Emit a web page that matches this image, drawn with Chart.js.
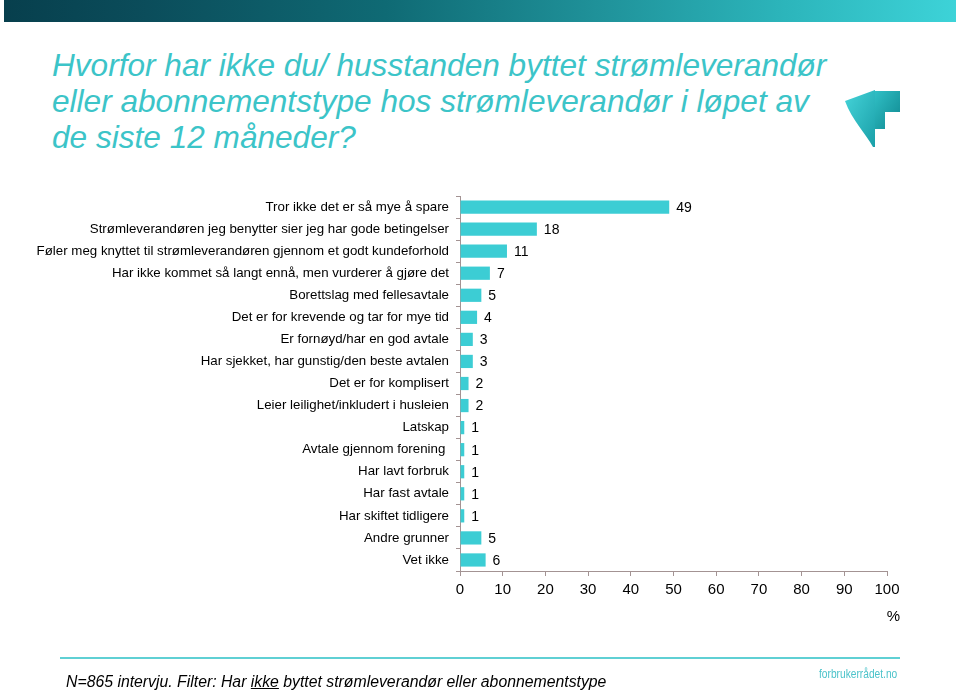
<!DOCTYPE html>
<html>
<head>
<meta charset="utf-8">
<script src="https://cdn.jsdelivr.net/npm/chart.js@4/dist/chart.umd.min.js"></script>
<style>
  html, body { margin: 0; padding: 0; background: #ffffff; }
  body { width: 960px; height: 693px; position: relative; overflow: hidden; font-family: "Liberation Sans", Arial, sans-serif; }
  #topbar { position: absolute; left: 4px; top: 0; width: 952px; height: 22px;
    background: linear-gradient(to right, #073f4d 0%, #0b4d5b 15%, #0f6a74 40%, #1f9199 62%, #2cb5bb 82%, #3dd3d8 100%); }
  #title { position: absolute; left: 52px; top: 47px; font-size: 31.6px; line-height: 36px; font-style: italic; color: #3cc4c8; white-space: nowrap; }
  #logo { position: absolute; left: 840px; top: 84px; }
  #chartwrap { position: absolute; left: 0; top: 0; width: 960px; height: 693px; }
  #pct { position: absolute; right: 60px; top: 607px; font-size: 15px; color: #000; }
  #footline { position: absolute; left: 60px; top: 657px; width: 840px; height: 2px; background: #5fd0d4; }
  #foot { position: absolute; left: 66px; top: 673px; font-size: 15.8px; font-style: italic; color: #000; white-space: nowrap; }
  #site { position: absolute; left: 819px; top: 667px; font-size: 12px; color: #4cc3ca; transform: scaleX(0.85); transform-origin: left top; white-space: nowrap; }
</style>
</head>
<body>
<div id="topbar"></div>
<div id="title">Hvorfor har ikke du/ husstanden byttet strømleverandør<br>eller abonnementstype hos strømleverandør i løpet av<br>de siste 12 måneder?</div>
<svg id="logo" width="66" height="68" viewBox="0 0 66 68">
  <defs>
    <linearGradient id="g1" x1="0" y1="0" x2="1" y2="1">
      <stop offset="0" stop-color="#45d4d9"/>
      <stop offset="1" stop-color="#1a9fa8"/>
    </linearGradient>
    <linearGradient id="g2" x1="0" y1="0" x2="1" y2="1">
      <stop offset="0" stop-color="#30bfc5"/>
      <stop offset="1" stop-color="#0f8890"/>
    </linearGradient>
  </defs>
  <path d="M5 17 L35 6 L35 63 L33 63 C 26 50, 12 36, 5 17 Z" fill="url(#g1)"/>
  <path d="M35 7 L60 7 L60 28 L45 28 L45 45 L35 45 Z" fill="url(#g2)"/>
</svg>
<div id="chartwrap"><canvas id="c" width="960" height="693"></canvas></div>
<div id="pct">%</div>
<div id="footline"></div>
<div id="foot">N=865 intervju. Filter: Har <u>ikke</u> byttet strømleverandør eller abonnementstype</div>
<div id="site">forbrukerrådet.no</div>
<script>
const categories = [
  "Tror ikke det er så mye å spare",
  "Strømleverandøren jeg benytter sier jeg har gode betingelser",
  "Føler meg knyttet til strømleverandøren gjennom et godt kundeforhold",
  "Har ikke kommet så langt ennå, men vurderer å gjøre det",
  "Borettslag med fellesavtale",
  "Det er for krevende og tar for mye tid",
  "Er fornøyd/har en god avtale",
  "Har sjekket, har gunstig/den beste avtalen",
  "Det er for komplisert",
  "Leier leilighet/inkludert i husleien",
  "Latskap",
  "Avtale gjennom forening ",
  "Har lavt forbruk",
  "Har fast avtale",
  "Har skiftet tidligere",
  "Andre grunner",
  "Vet ikke"
];
const percentValues = [49, 18, 11, 7, 5, 4, 3, 3, 2, 2, 1, 1, 1, 1, 1, 5, 6];
const xTickMin = 0;
const xTickMax = 100;
const xTickStep = 10;

const axisColor = '#a39393';
const barColor = '#3ccdd4';

const valueLabels = {
  id: 'valueLabels',
  afterDatasetsDraw(chart) {
    const ctx = chart.ctx;
    const meta = chart.getDatasetMeta(0);
    ctx.save();
    ctx.font = '14px "Liberation Sans", Arial, sans-serif';
    ctx.fillStyle = '#000';
    ctx.textAlign = 'left';
    ctx.textBaseline = 'middle';
    meta.data.forEach((bar, i) => {
      ctx.fillText(String(chart.data.datasets[0].data[i]), bar.x + 7, bar.y + 1);
    });
    ctx.restore();
  }
};

new Chart(document.getElementById('c'), {
  type: 'bar',
  data: {
    labels: categories,
    datasets: [{
      data: percentValues,
      backgroundColor: barColor,
      borderWidth: 0,
      barPercentage: 0.6,
      categoryPercentage: 1.0
    }]
  },
  options: {
    indexAxis: 'y',
    responsive: false,
    animation: false,
    devicePixelRatio: 1,
    layout: { padding: { top: 196, left: 0, right: 73, bottom: 62 } },
    plugins: { legend: { display: false }, tooltip: { enabled: false } },
    scales: {
      x: {
        min: xTickMin, max: xTickMax,
        afterFit(scale) { scale.height = 60; },
        ticks: { stepSize: xTickStep, color: '#000', padding: 5, font: { size: 15, family: '"Liberation Sans", Arial, sans-serif' }, maxRotation: 0 },
        grid: { drawOnChartArea: false, drawTicks: true, tickLength: 5, color: axisColor },
        border: { color: axisColor, width: 1 }
      },
      y: {
        afterFit(scale) { scale.width = 460; },
        ticks: { color: '#000', padding: 7, autoSkip: false, font: { size: 13.3, family: '"Liberation Sans", Arial, sans-serif' } },
        grid: { drawOnChartArea: false, drawTicks: true, tickLength: 4, color: axisColor, offset: true },
        border: { color: axisColor, width: 1 }
      }
    }
  },
  plugins: [valueLabels]
});
</script>
</body>
</html>
